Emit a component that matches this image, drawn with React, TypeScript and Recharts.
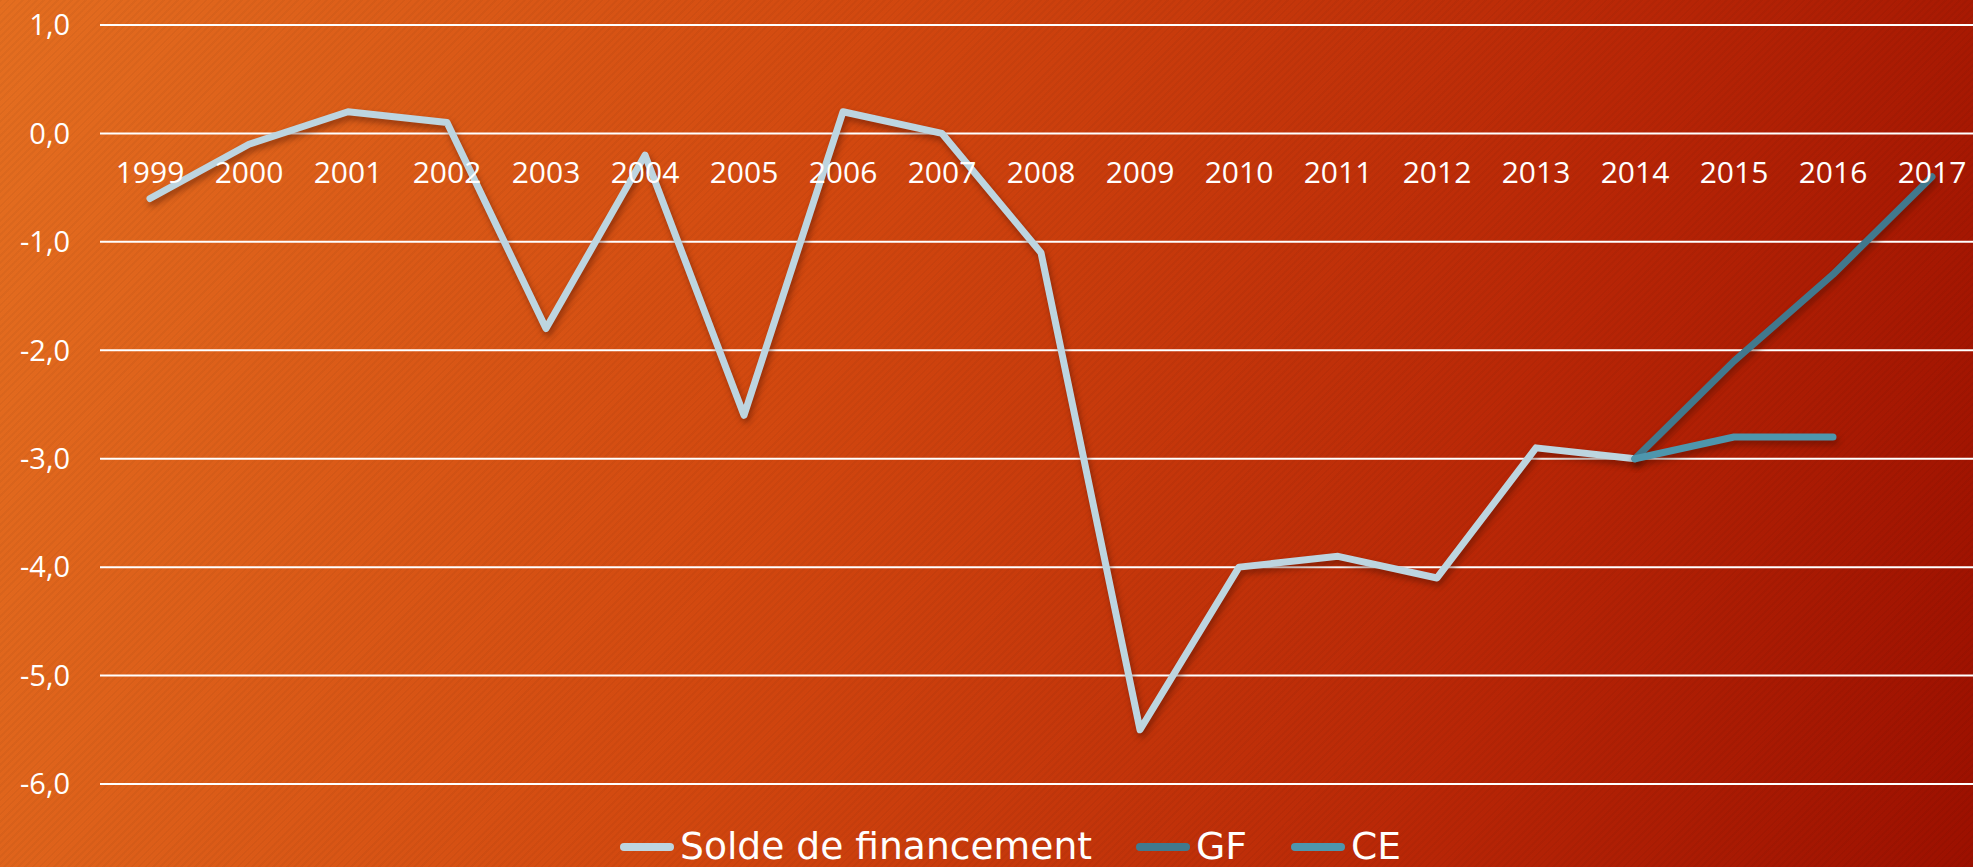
import React from 'react';
import { LineChart, Line, XAxis, YAxis, CartesianGrid, Legend } from 'recharts';

const years = ['1999', '2000', '2001', '2002', '2003', '2004', '2005', '2006', '2007', '2008', '2009', '2010', '2011', '2012', '2013', '2014', '2015', '2016', '2017'];
const solde: (number | null)[] = [-0.6, -0.1, 0.2, 0.1, -1.8, -0.2, -2.6, 0.2, 0.0, -1.1, -5.5, -4.0, -3.9, -4.1, -2.9, -3.0, null, null, null];
const gf: (number | null)[] = [null, null, null, null, null, null, null, null, null, null, null, null, null, null, null, -3.0, -2.1, -1.3, -0.4];
const ce: (number | null)[] = [null, null, null, null, null, null, null, null, null, null, null, null, null, null, null, -3.0, -2.8, -2.8, null];
const yTicks = [-6, -5, -4, -3, -2, -1, 0, 1];
const seriesNames = ['Solde de financement', 'GF', 'CE'];
const seriesKeys = ['solde', 'gf', 'ce'];
const seriesColors = ['#BDD5E0', '#41798E', '#4E96AD'];

const data = years.map((y, i) => ({ year: y, solde: solde[i], gf: gf[i], ce: ce[i] }));

const W = 1973;
const H = 867;
const CHART_W = 1982;
const PLOT_TOP = 25;
const PLOT_BOTTOM = 784;
const Y_MIN = -6;
const Y_MAX = 1;
const LEGEND_H = 50;
const XAXIS_H = H - PLOT_BOTTOM - LEGEND_H;
const ZERO_Y = PLOT_TOP + ((Y_MAX - 0) / (Y_MAX - Y_MIN)) * (PLOT_BOTTOM - PLOT_TOP);

const FONT = '"Open Sans", sans-serif';

const XTick = (props: any) => {
  const { x, payload } = props;
  return (
    <text x={x} y={ZERO_Y + 38} textAnchor="middle" dominantBaseline="central" fill="#FFFFFF" fontSize={30} fontFamily={FONT}>
      {payload.value}
    </text>
  );
};

const legendTextWidths = [412, 51, 50];

const LegendContent = () => {
  let x = 620;
  const items = seriesNames.map((name, i) => {
    const x0 = x;
    const tx = x0 + 60;
    x = tx + legendTextWidths[i] + 44;
    return (
      <g key={name}>
        <line x1={x0 + 4} y1={30} x2={x0 + 50} y2={30} stroke={seriesColors[i]} strokeWidth={8} strokeLinecap="round" />
        <text x={tx} y={42} fill="#FFFFFF" fontSize={38} fontFamily='"Liberation Sans Narrow", "DejaVu Sans Condensed", sans-serif' textLength={legendTextWidths[i]} lengthAdjust="spacingAndGlyphs">
          {name}
        </text>
      </g>
    );
  });
  return (
    <svg width={W} height={LEGEND_H} style={{ display: 'block' }}>
      {items}
    </svg>
  );
};

export default function App() {
  return (
    <div
      style={{
        position: 'absolute',
        left: 0,
        top: 0,
        width: W,
        height: H,
        overflow: 'hidden',
        background:
          'repeating-linear-gradient(135deg, rgba(0,0,0,0.035) 0px, rgba(0,0,0,0.035) 2px, rgba(255,255,255,0) 2px, rgba(255,255,255,0) 5px), linear-gradient(105deg, #E46E20 0%, #D2480F 40%, #B82606 75%, #9C1000 100%)',
      }}
    >
      <style>{`.recharts-line-curve { filter: drop-shadow(2px 4px 3px rgba(60,10,0,0.45)); }`}</style>
      <LineChart
        width={CHART_W}
        height={H}
        data={data}
        margin={{ top: PLOT_TOP, right: 0, bottom: 0, left: 0 }}
      >
        <CartesianGrid vertical={false} stroke="#FFFFFF" strokeWidth={2} />
        <XAxis
          dataKey="year"
          axisLine={false}
          tickLine={false}
          height={XAXIS_H}
          interval={0}
          padding={{ left: 50, right: 50 }}
          tick={<XTick />}
        />
        <YAxis
          domain={[Y_MIN, Y_MAX]}
          ticks={yTicks}
          width={100}
          axisLine={false}
          tickLine={false}
          tickMargin={24}
          interval={0}
          tick={{ fill: '#FFFFFF', fontSize: 29, fontFamily: FONT }}
          tickFormatter={(v: number) => v.toFixed(1).replace('.', ',')}
        />
        <Legend
          verticalAlign="bottom"
          height={LEGEND_H}
          wrapperStyle={{ left: 0, bottom: 0, width: W, height: LEGEND_H }}
          content={<LegendContent />}
        />
        {seriesKeys.map((k, i) => (
          <Line
            key={k}
            dataKey={k}
            name={seriesNames[i]}
            stroke={seriesColors[i]}
            strokeWidth={7}
            strokeLinecap="round"
            strokeLinejoin="round"
            dot={false}
            activeDot={false}
            connectNulls={false}
            isAnimationActive={false}
          />
        ))}
      </LineChart>
    </div>
  );
}
